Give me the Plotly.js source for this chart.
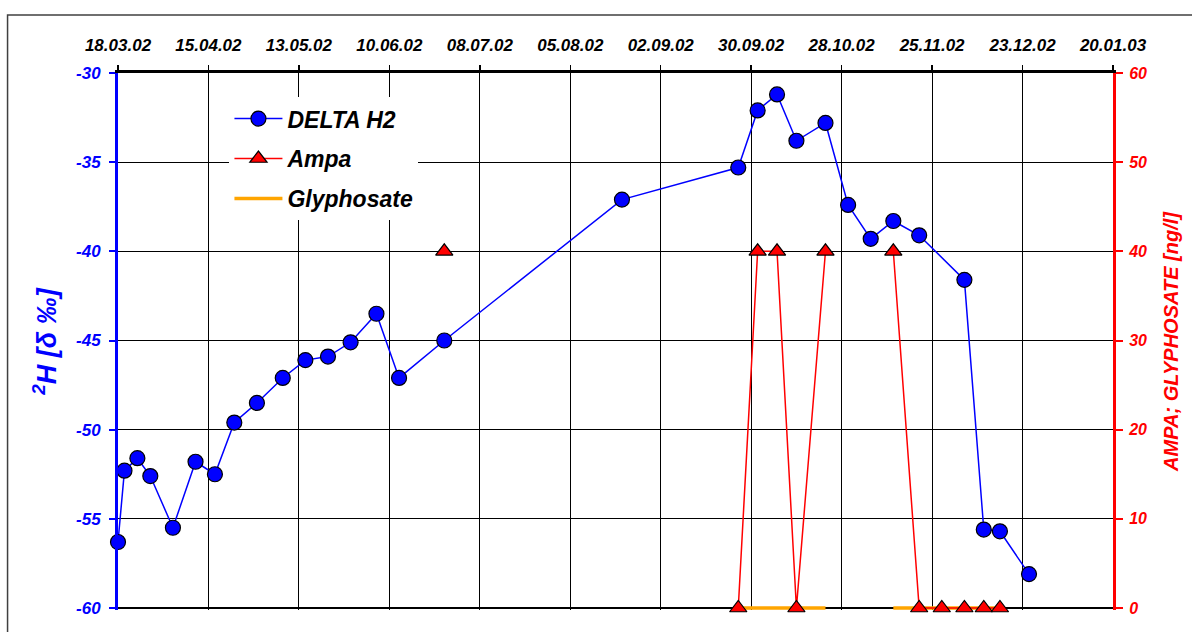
<!DOCTYPE html>
<html>
<head>
<meta charset="utf-8">
<script src="https://cdn.plot.ly/plotly-3.0.1.min.js"></script>
<style>
  body { margin: 0; background: #fff; }
  #chart { width: 1192px; height: 632px; }
</style>
</head>
<body>
<div id="chart"></div>
<script>
// sample dates and delta 2H values (left axis)
var deltaDates = [
	'2002-03-18', '2002-03-20', '2002-03-24', '2002-03-28', '2002-04-04', '2002-04-11',
	'2002-04-17', '2002-04-23', '2002-04-30', '2002-05-08', '2002-05-15', '2002-05-22',
	'2002-05-29', '2002-06-06', '2002-06-13', '2002-06-27', '2002-08-21', '2002-09-26',
	'2002-10-02', '2002-10-08', '2002-10-14', '2002-10-23', '2002-10-30', '2002-11-06',
	'2002-11-13', '2002-11-21', '2002-12-05', '2002-12-11', '2002-12-16', '2002-12-25'
];
var deltaH2 = [
	-56.3, -52.3, -51.6, -52.6, -55.5, -51.8,
	-52.5, -49.6, -48.5, -47.1, -46.1, -45.9,
	-45.1, -43.5, -47.1, -45.0, -37.1, -35.3,
	-32.1, -31.2, -33.8, -32.8, -37.4, -39.3,
	-38.3, -39.1, -41.6, -55.6, -55.7, -58.1
];

// AMPA (right axis), nulls break the line where no value was taken
var ampaDates = [
	'2002-06-27', '2002-08-21', '2002-09-26', '2002-10-02', '2002-10-08', '2002-10-14',
	'2002-10-23', '2002-10-30', '2002-11-13', '2002-11-21', '2002-11-28', '2002-12-05',
	'2002-12-11', '2002-12-16'
];
var ampa = [40, null, 0, 40, 40, 0, 40, null, 40, 0, 0, 0, 0, 0];

// Glyphosate (right axis)
var glyDates = [
	'2002-09-26', '2002-10-02', '2002-10-08', '2002-10-14', '2002-10-23', '2002-10-30',
	'2002-11-13', '2002-11-21', '2002-11-28', '2002-12-05', '2002-12-11', '2002-12-16'
];
var glyphosate = [0, 0, 0, 0, 0, null, 0, 0, 0, 0, 0, 0];

// axis ticks
var xRange = ['2002-03-18', '2003-01-20'];
var leftTicks = [-60, -55, -50, -45, -40, -35, -30];
var leftTickText = ['-60', '-55', '-50', '-45', '-40', '-35', '-30'];
var rightTicks = [0, 10, 20, 30, 40, 50, 60];

var FONT = 'Liberation Sans, Arial, sans-serif';
function bi(size, color) {
	return { family: FONT, size: size, color: color, weight: 'bold', style: 'italic' };
}

var trace_delta = {
	x: deltaDates,
	y: deltaH2,
	type: 'scatter',
	mode: 'lines+markers',
	name: 'DELTA H2',
	legendgroup: 'a',
	legendrank: 1,
	cliponaxis: false,
	line: { color: '#0000ff', width: 1.5 },
	marker: { symbol: 'circle', size: 15, color: '#0000ff', line: { color: '#000', width: 1.2 } }
};

var trace_gly = {
	x: glyDates,
	y: glyphosate,
	yaxis: 'y2',
	type: 'scatter',
	mode: 'lines',
	name: 'Glyphosate',
	legendgroup: 'c',
	legendrank: 3,
	cliponaxis: false,
	line: { color: '#ffa500', width: 3.5 }
};

var trace_ampa = {
	x: ampaDates,
	y: ampa,
	yaxis: 'y2',
	type: 'scatter',
	mode: 'lines+markers',
	name: 'Ampa',
	legendgroup: 'b',
	legendrank: 2,
	cliponaxis: false,
	connectgaps: false,
	line: { color: '#ff0000', width: 1.5 },
	marker: { symbol: 'triangle-up', size: 15, color: '#ff0000', line: { color: '#000', width: 1.2 } }
};

var data = [trace_delta, trace_gly, trace_ampa];

// a little room below the lowest tick so the zero lines are not cut in half
var padL = 0.112, padR = 0.224;

var layout = {
	width: 1192,
	height: 632,
	margin: { l: 118, r: 79, t: 73, b: 22 },
	paper_bgcolor: '#fff',
	plot_bgcolor: '#fff',
	showlegend: true,
	legend: {
		x: 0.112, y: 0.955, xanchor: 'left', yanchor: 'top',
		bgcolor: '#fff',
		font: bi(23, '#000'),
		traceorder: 'grouped',
		tracegroupgap: 7,
		itemwidth: 48
	},
	xaxis: {
		type: 'date',
		side: 'top',
		range: xRange,
		tick0: xRange[0],
		dtick: 28 * 86400000,
		tickformat: '%d.%m.%y',
		tickfont: bi(17, '#000'),
		ticks: 'outside',
		ticklen: 5,
		tickwidth: 1.5,
		tickcolor: '#000',
		ticklabelstandoff: 7,
		showline: true,
		linecolor: '#000',
		linewidth: 3,
		showgrid: true,
		gridcolor: '#000',
		gridwidth: 1,
		zeroline: false
	},
	yaxis: {
		range: [leftTicks[0] - padL, leftTicks[leftTicks.length - 1]],
		tickmode: 'array',
		tickvals: leftTicks,
		ticktext: leftTickText,
		tickfont: bi(17, '#0000ff'),
		ticks: 'outside',
		ticklen: 6,
		tickwidth: 2,
		tickcolor: '#0000ff',
		ticklabelstandoff: 5,
		showline: true,
		linecolor: '#0000ff',
		linewidth: 3,
		showgrid: true,
		gridcolor: '#000',
		gridwidth: 1.2,
		zeroline: false,
		title: { text: '<sup>2</sup>H [δ ‰]', font: bi(27, '#0000ff'), standoff: 12 }
	},
	yaxis2: {
		overlaying: 'y',
		side: 'right',
		range: [rightTicks[0] - padR, rightTicks[rightTicks.length - 1]],
		tickmode: 'array',
		tickvals: rightTicks,
		tickfont: bi(16, '#ff0000'),
		ticks: 'outside',
		ticklen: 7,
		tickwidth: 2,
		tickcolor: '#ff0000',
		ticklabelstandoff: 3,
		showline: true,
		linecolor: '#ff0000',
		linewidth: 3,
		showgrid: false,
		zeroline: false,
		title: { text: 'AMPA; GLYPHOSATE [ng/l]', font: bi(20, '#ff0000'), standoff: 18 }
	},
	shapes: [
		// outer frame of the chart
		{ type: 'rect', xref: 'paper', yref: 'paper', x0: -0.111, x1: 1.2, y0: -0.2, y1: 1.108,
		  line: { color: '#404040', width: 1.5 }, fillcolor: 'rgba(0,0,0,0)', layer: 'below' }
	]
};

Plotly.newPlot('chart', data, layout, { displayModeBar: false, staticPlot: true });
</script>
</body>
</html>
